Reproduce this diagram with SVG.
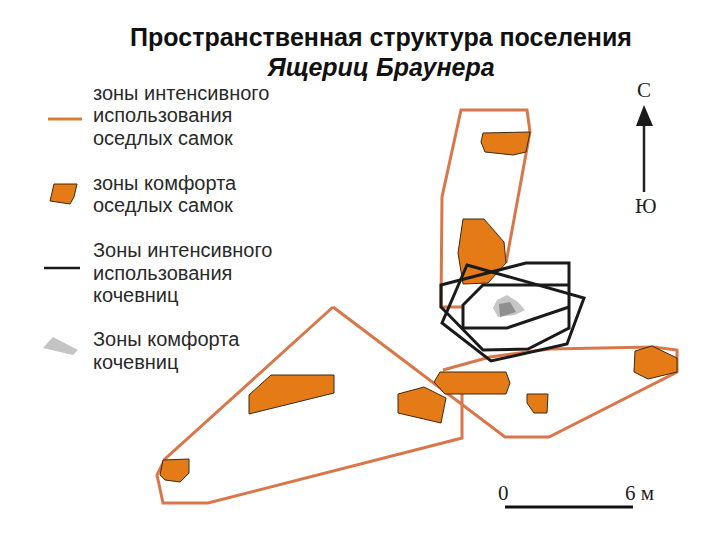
<svg xmlns="http://www.w3.org/2000/svg" width="720" height="540" viewBox="0 0 720 540">
<style>
.t{font-family:"Liberation Sans",Arial,sans-serif;font-weight:bold;font-size:25px;fill:#111;text-anchor:middle}
.l{font-family:"Liberation Sans",Arial,sans-serif;font-size:20px;fill:#2a2a2a}
.s{font-family:"Liberation Serif","Times New Roman",serif;font-size:21px;fill:#222}
.o{fill:none;stroke:#d9764a;stroke-width:3;stroke-linejoin:miter}
.k{fill:none;stroke:#1a1a1a;stroke-width:3;stroke-linejoin:miter}
.b{fill:#e57b17;stroke:#3a2a15;stroke-width:1}
</style>
<rect width="720" height="540" fill="#fff"/>
<text class="t" x="381" y="46">Пространственная структура поселения</text>
<text class="t" x="381" y="76" font-style="italic">Ящериц Браунера</text>
<g id="legend-female-zone">
<line x1="48" y1="119" x2="82" y2="119" stroke="#d5803a" stroke-width="3"/>
<text class="l" x="93" y="100">зоны интенсивного</text>
<text class="l" x="93" y="122">использования</text>
<text class="l" x="93" y="145">оседлых самок</text>
</g>
<g id="legend-female-comfort">
<polygon class="b" points="54,184 77,184 74,197 70,204 50,201"/>
<text class="l" x="93" y="190">зоны комфорта</text>
<text class="l" x="93" y="212">оседлых самок</text>
</g>
<g id="legend-nomad-zone">
<line x1="44" y1="268" x2="80" y2="268" stroke="#1a1a1a" stroke-width="2.5"/>
<text class="l" x="93" y="257">Зоны интенсивного</text>
<text class="l" x="93" y="280">использования</text>
<text class="l" x="93" y="302">кочевниц</text>
</g>
<g id="legend-nomad-comfort">
<polygon points="43,348 53,337 78,350 73,355" fill="#c4c4c4"/>
<text class="l" x="93" y="346">Зоны комфорта</text>
<text class="l" x="93" y="369">кочевниц</text>
</g>
<g id="zones-female">
<path class="o" d="M463,307 L441,307 L442,197 L461,110 L527,110 L530,132 L506,263"/>
<path class="o" d="M333,307 L505,437 L549,437 L677,372 L677,350 L653,347 L550,349 L490,357 L443,370"/>
<path class="o" d="M462,390 L462,438 L208,503 L163,503 L157,475 L165,459 L333,307"/>
</g>
<g id="comfort-female">
<polygon class="b" points="483,133 530,132 526,152 513,155 485,152 481,142"/>
<polygon class="b" points="463,219 484,219 504,242 506,263 488,283 463,284 458,253"/>
<polygon class="b" points="271,375 334,375 334,393 249,414 249,395"/>
<polygon class="b" points="398,394 424,387 446,398 441,423 398,413"/>
<polygon class="b" points="440,372 506,372 510,383 506,394 445,394 434,382"/>
<polygon class="b" points="527,394 548,394 547,413 534,413 527,403"/>
<polygon class="b" points="635,351 652,346 677,358 677,372 648,379 634,372"/>
<polygon class="b" points="163,460 189,459 189,473 180,482 165,480 160,475"/>
</g>
<g id="comfort-nomad">
<polygon points="497,300 507,295 518,302 525,310 515,315 498,317 493,308" fill="#c6c6c6"/>
<polygon points="499,304 510,302 516,312 500,317" fill="#8f8f8f"/>
</g>
<g id="zones-nomad">
<path class="k" d="M441,285 L526,263 L569,263 L569,328 L528,349 L483,350 L441,307 Z"/>
<path class="k" d="M467,265 L584,298 L567,344 L491,361 L442,323 Z"/>
<path class="k" d="M569,285 L483,285 L463,305 L463,328 L507,328 L569,307"/>
</g>
<g id="compass">
<text class="s" x="637" y="97">С</text>
<line x1="644" y1="192" x2="644" y2="122" stroke="#222" stroke-width="2.5"/>
<polygon points="644,105 636,126 653,126" fill="#1a1a1a"/>
<text class="s" x="635" y="213">Ю</text>
</g>
<g id="scale">
<line x1="505" y1="507" x2="633" y2="507" stroke="#111" stroke-width="3"/>
<text class="s" x="498" y="500">0</text>
<text class="s" x="625" y="500">6 м</text>
</g>
</svg>
